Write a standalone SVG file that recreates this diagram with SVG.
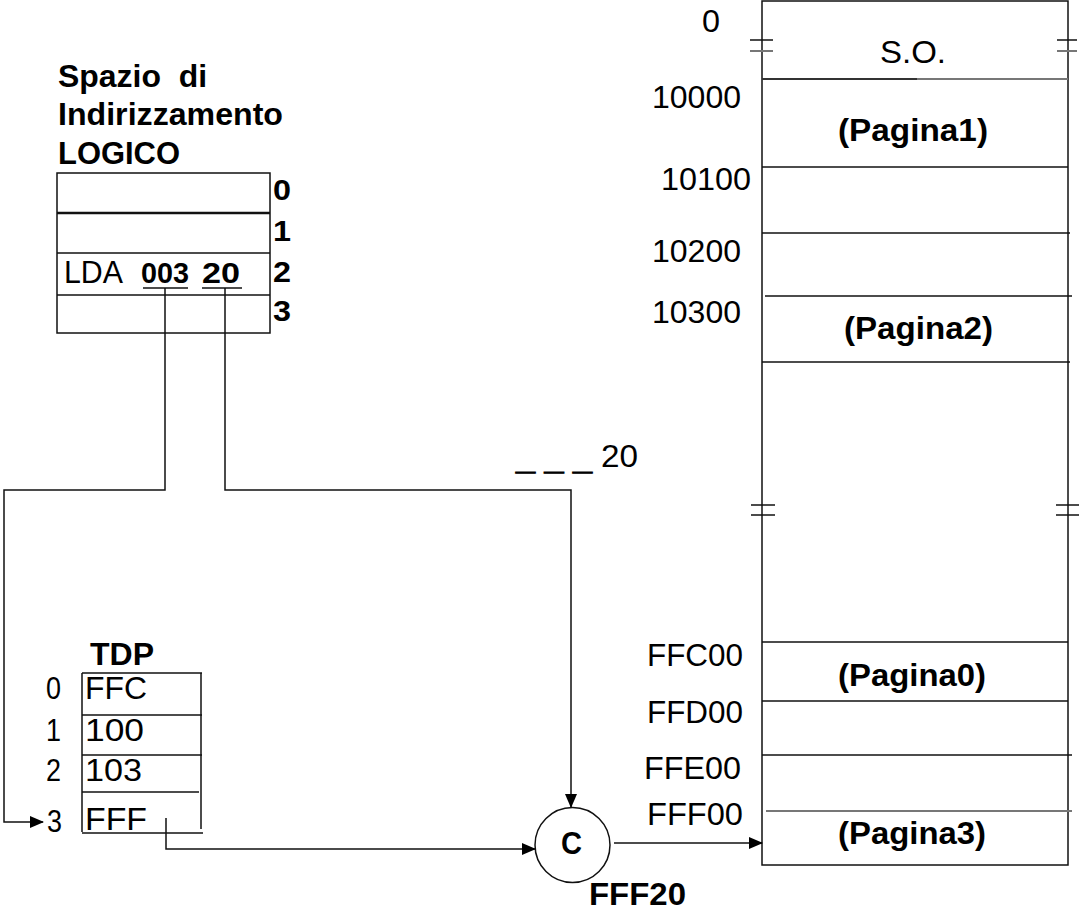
<svg xmlns="http://www.w3.org/2000/svg" width="1081" height="913" viewBox="0 0 1081 913">
<style>
text{font-family:"Liberation Sans",Arial,sans-serif;fill:#000}
.r{font-size:31px}
.b{font-size:32px;font-weight:bold}
.bs{font-size:29px;font-weight:bold}
.ln{stroke:#111;stroke-width:1.5;fill:none}
.gr{stroke:#777;stroke-width:2;fill:none}
.pre{white-space:pre}
.dash{stroke:#000;stroke-width:1.2}
</style>
<defs>
<marker id="ah" markerUnits="userSpaceOnUse" markerWidth="14" markerHeight="12" refX="13" refY="6" orient="auto">
<path d="M0,0 L14,6 L0,12 Z" fill="#000"/>
</marker>
</defs>
<rect width="1081" height="913" fill="#fff"/>

<g id="logico">
<text class="b pre" x="58" y="87" textLength="149" lengthAdjust="spacingAndGlyphs">Spazio  di</text>
<text class="b" x="58" y="125" textLength="225" lengthAdjust="spacingAndGlyphs">Indirizzamento</text>
<text class="b" x="58" y="164" textLength="122" lengthAdjust="spacingAndGlyphs">LOGICO</text>
<rect class="ln" x="57" y="173" width="213" height="160"/>
<line x1="57" y1="213" x2="270" y2="213" stroke="#111" stroke-width="2.5"/>
<line class="ln" x1="57" y1="253" x2="270" y2="253"/>
<line class="ln" x1="57" y1="295" x2="270" y2="295"/>
<text class="bs" x="273" y="200" textLength="18" lengthAdjust="spacingAndGlyphs">0</text>
<text class="bs" x="273" y="241" textLength="18" lengthAdjust="spacingAndGlyphs">1</text>
<text class="bs" x="273" y="282" textLength="18" lengthAdjust="spacingAndGlyphs">2</text>
<text class="bs" x="273" y="321" textLength="18" lengthAdjust="spacingAndGlyphs">3</text>
<text class="r" x="64" y="283" textLength="59" lengthAdjust="spacingAndGlyphs">LDA</text>
<text class="bs" x="141" y="283" textLength="48" lengthAdjust="spacingAndGlyphs">003</text>
<text class="bs" x="202" y="283" textLength="38" lengthAdjust="spacingAndGlyphs">20</text>
<line class="ln" x1="143" y1="288" x2="188" y2="288"/>
<line class="ln" x1="202" y1="288" x2="242" y2="288"/>
</g>

<g id="tdp">
<text class="b" x="90" y="665" textLength="64" lengthAdjust="spacingAndGlyphs">TDP</text>
<line class="ln" x1="82" y1="673" x2="202" y2="673"/>
<line class="ln" x1="82" y1="715" x2="202" y2="715"/>
<line class="ln" x1="82" y1="755" x2="202" y2="755"/>
<line class="ln" x1="82" y1="792" x2="199" y2="792"/>
<line class="ln" x1="82" y1="833" x2="203" y2="833"/>
<line class="ln" x1="82" y1="673" x2="82" y2="832"/>
<line class="ln" x1="201" y1="673" x2="201" y2="829"/>
<text class="r" x="46" y="699" textLength="15" lengthAdjust="spacingAndGlyphs">0</text>
<text class="r" x="46" y="741" textLength="15" lengthAdjust="spacingAndGlyphs">1</text>
<text class="r" x="46" y="781" textLength="15" lengthAdjust="spacingAndGlyphs">2</text>
<text class="r" x="47" y="832" textLength="15" lengthAdjust="spacingAndGlyphs">3</text>
<text class="r" x="85" y="699" textLength="62" lengthAdjust="spacingAndGlyphs">FFC</text>
<text class="r" x="85" y="741" textLength="59" lengthAdjust="spacingAndGlyphs">100</text>
<text class="r" x="85" y="781" textLength="57" lengthAdjust="spacingAndGlyphs">103</text>
<text class="r" x="85" y="830" textLength="62" lengthAdjust="spacingAndGlyphs">FFF</text>
</g>

<g id="offset-label">
<text class="b dash" x="516" y="469" textLength="76" lengthAdjust="spacingAndGlyphs">_ _ _</text>
<text class="r" x="601" y="467" textLength="37" lengthAdjust="spacingAndGlyphs">20</text>
</g>

<g id="concat">
<circle class="ln" cx="572.5" cy="845" r="37.5"/>
<text class="b" x="561" y="854" textLength="21" lengthAdjust="spacingAndGlyphs">C</text>
<text class="b" x="589" y="905" textLength="97" lengthAdjust="spacingAndGlyphs">FFF20</text>
</g>

<g id="memoria">
<rect class="ln" x="762" y="1" width="306" height="864"/>
<line x1="762" y1="79" x2="917" y2="79" stroke="#333" stroke-width="2"/>
<line class="gr" x1="917" y1="79" x2="1068" y2="79"/>
<line class="ln" x1="762" y1="167" x2="1068" y2="167"/>
<line class="ln" x1="762" y1="233" x2="1070" y2="233"/>
<line class="ln" x1="765" y1="296" x2="1072" y2="296"/>
<line class="ln" x1="762" y1="362" x2="1070" y2="362"/>
<line class="ln" x1="762" y1="642" x2="1068" y2="642"/>
<line class="ln" x1="762" y1="701" x2="1068" y2="701"/>
<line class="ln" x1="762" y1="755" x2="1072" y2="755"/>
<line class="gr" x1="766" y1="811" x2="1072" y2="811"/>
<line class="ln" x1="750" y1="40" x2="773" y2="40"/>
<line class="gr" x1="750" y1="51" x2="773" y2="51"/>
<line class="ln" x1="1057" y1="40" x2="1077" y2="40"/>
<line class="gr" x1="1057" y1="51" x2="1077" y2="51"/>
<line class="ln" x1="751" y1="505" x2="775" y2="505"/>
<line class="ln" x1="751" y1="515" x2="775" y2="515"/>
<line class="ln" x1="1056" y1="505" x2="1079" y2="505"/>
<line class="ln" x1="1056" y1="515" x2="1079" y2="515"/>
<text class="r" x="702" y="32" textLength="18" lengthAdjust="spacingAndGlyphs">0</text>
<text class="r" x="652" y="108" textLength="89" lengthAdjust="spacingAndGlyphs">10000</text>
<text class="r" x="661" y="190" textLength="90" lengthAdjust="spacingAndGlyphs">10100</text>
<text class="r" x="652" y="262" textLength="89" lengthAdjust="spacingAndGlyphs">10200</text>
<text class="r" x="652" y="323" textLength="89" lengthAdjust="spacingAndGlyphs">10300</text>
<text class="r" x="647" y="666" textLength="96" lengthAdjust="spacingAndGlyphs">FFC00</text>
<text class="r" x="647" y="723" textLength="96" lengthAdjust="spacingAndGlyphs">FFD00</text>
<text class="r" x="644" y="779" textLength="97" lengthAdjust="spacingAndGlyphs">FFE00</text>
<text class="r" x="647" y="825" textLength="96" lengthAdjust="spacingAndGlyphs">FFF00</text>
<text class="r" x="880" y="63" textLength="66" lengthAdjust="spacingAndGlyphs">S.O.</text>
<text class="b" x="838" y="141" textLength="150" lengthAdjust="spacingAndGlyphs">(Pagina1)</text>
<text class="b" x="844" y="339" textLength="149" lengthAdjust="spacingAndGlyphs">(Pagina2)</text>
<text class="b" x="838" y="686" textLength="148" lengthAdjust="spacingAndGlyphs">(Pagina0)</text>
<text class="b" x="838" y="844" textLength="148" lengthAdjust="spacingAndGlyphs">(Pagina3)</text>
</g>

<g id="connectors">
<polyline class="ln" points="165,288 165,490 4,490 4,822 43,822" marker-end="url(#ah)"/>
<polyline class="ln" points="225,288 225,490 571,490 571,807" marker-end="url(#ah)"/>
<polyline class="ln" points="166,818 166,849 535,849" marker-end="url(#ah)"/>
<line class="ln" x1="614" y1="843" x2="762" y2="843" marker-end="url(#ah)"/>
</g>
</svg>
